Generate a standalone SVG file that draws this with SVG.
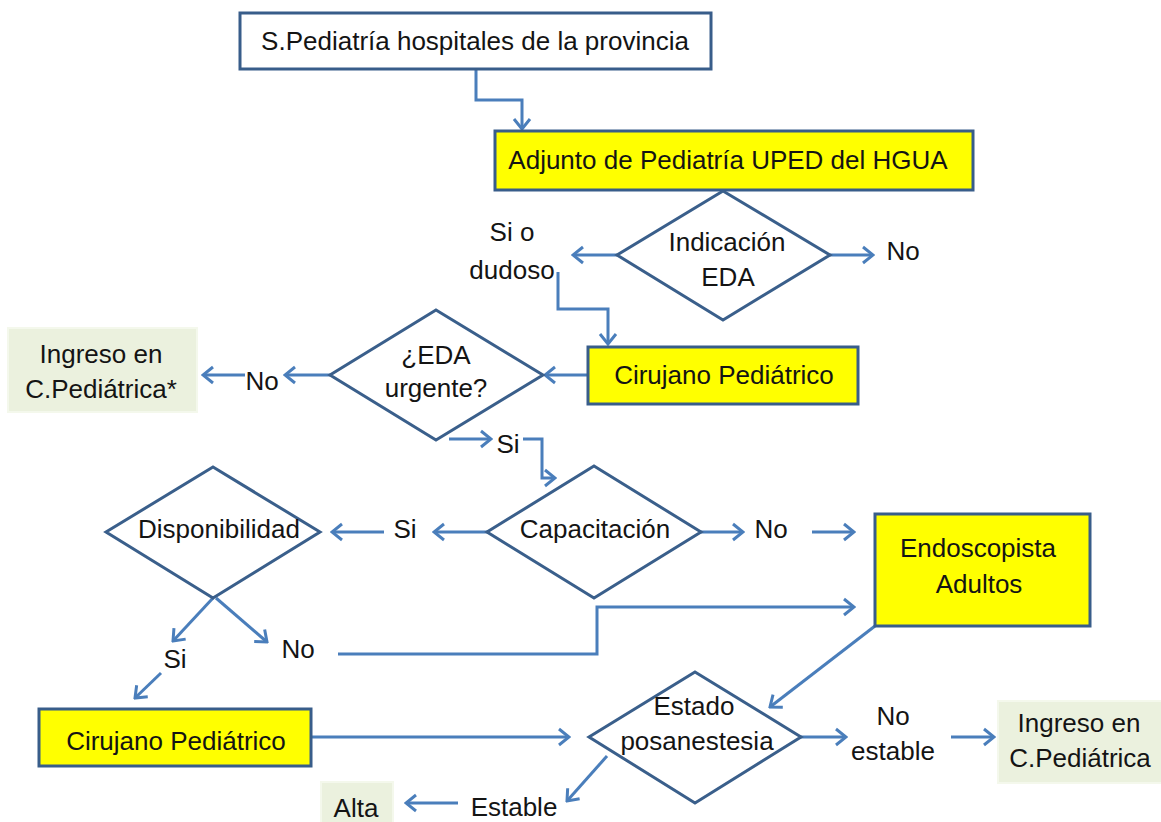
<svg xmlns="http://www.w3.org/2000/svg" width="1161" height="822" viewBox="0 0 1161 822">
<style>
  .box{stroke:#385D8A;stroke-width:3}
  .yel{fill:#FFFF00}
  .wht{fill:#FFFFFF}
  .grn{fill:#EBF1DE;stroke:#F4F8EC;stroke-width:2}
  .dia{fill:#FFFFFF;stroke:#3A5F8B;stroke-width:3;stroke-linejoin:miter}
  .con{fill:none;stroke:#4A7EBB;stroke-width:3;marker-end:url(#arr)}
  text{font-family:"Liberation Sans",Arial,sans-serif;font-size:26px;fill:#141414;text-anchor:middle}
</style>
<defs>
  <marker id="arr" viewBox="-14 -11 16 22" refX="0" refY="0" markerWidth="16" markerHeight="22" markerUnits="userSpaceOnUse" orient="auto">
    <path d="M-10,-8 L0,0 L-10,8" fill="none" stroke="#4A7EBB" stroke-width="3"/>
  </marker>
</defs>
<rect width="1161" height="822" fill="#FFFFFF"/>

<g id="connectors">
  <path class="con" d="M476,69 V100 H522 V129"/>
  <path class="con" d="M617,255 H573"/>
  <path class="con" d="M830,255 H873"/>
  <path class="con" d="M558,272 V309 H608 V344"/>
  <path class="con" d="M588,375 H545"/>
  <path class="con" d="M330,375 H285"/>
  <path class="con" d="M245,375 H203"/>
  <path class="con" d="M449,439 H491"/>
  <path class="con" d="M523,439 H542 V478 H555"/>
  <path class="con" d="M487,532 H434"/>
  <path class="con" d="M384,532 H332"/>
  <path class="con" d="M701,532 H743"/>
  <path class="con" d="M812,532 H854"/>
  <path class="con" d="M213,598 L173,641"/>
  <path class="con" d="M216,598 L267,642"/>
  <path class="con" d="M161,673 L135,698"/>
  <path class="con" d="M338,654 H597 V607 H854"/>
  <path class="con" d="M875,626 L770,707"/>
  <path class="con" d="M311,737 H569"/>
  <path class="con" d="M801,737 H846"/>
  <path class="con" d="M951,737 H994"/>
  <path class="con" d="M607,756 L567,801"/>
  <path class="con" d="M458,803 H406"/>
</g>

<g id="n-spediatria">
  <rect class="box wht" x="240" y="13" width="471" height="56"/>
  <text x="475" y="50">S.Pediatría hospitales de la provincia</text>
</g>
<g id="n-adjunto">
  <rect class="box yel" x="495" y="131" width="478" height="59"/>
  <text x="728" y="169">Adjunto de Pediatría UPED del HGUA</text>
</g>
<g id="d-indicacion">
  <polygon class="dia" points="723,191 830,255 723,320 617,255"/>
  <text x="727" y="251">Indicación</text>
  <text x="728" y="286">EDA</text>
</g>
<g id="n-cirujano1">
  <rect class="box yel" x="588" y="347" width="270" height="57"/>
  <text x="724" y="384">Cirujano Pediátrico</text>
</g>
<g id="d-urgente">
  <polygon class="dia" points="436,310 543,375 436,440 330,375"/>
  <text x="436" y="364">¿EDA</text>
  <text x="436" y="397">urgente?</text>
</g>
<g id="n-ingreso1">
  <rect class="grn" x="8" y="328" width="189" height="84"/>
  <text x="101" y="363">Ingreso en</text>
  <text x="101" y="398">C.Pediátrica*</text>
</g>
<g id="d-capacitacion">
  <polygon class="dia" points="594,466 701,532 594,598 487,532"/>
  <text x="595" y="538">Capacitación</text>
</g>
<g id="d-disponibilidad">
  <polygon class="dia" points="213,467 320,532 213,598 106,532"/>
  <text x="219" y="538">Disponibilidad</text>
</g>
<g id="n-endoscopista">
  <rect class="box yel" x="875" y="514" width="215" height="112"/>
  <text x="978" y="557">Endoscopista</text>
  <text x="979" y="593">Adultos</text>
</g>
<g id="n-cirujano2">
  <rect class="box yel" x="39" y="709" width="272" height="57"/>
  <text x="176" y="750">Cirujano Pediátrico</text>
</g>
<g id="d-estado">
  <polygon class="dia" points="695,672 801,737 695,803 589,737"/>
  <text x="694" y="715">Estado</text>
  <text x="697" y="750">posanestesia</text>
</g>
<g id="n-ingreso2">
  <rect class="grn" x="998" y="701" width="165" height="82"/>
  <text x="1079" y="732">Ingreso en</text>
  <text x="1080" y="767">C.Pediátrica</text>
</g>
<g id="n-alta">
  <rect class="grn" x="321" y="782" width="72" height="42"/>
  <text x="356" y="817">Alta</text>
</g>

<g id="labels">
  <text x="512" y="241">Si o</text>
  <text x="512" y="279">dudoso</text>
  <text x="903" y="260">No</text>
  <text x="262" y="390">No</text>
  <text x="508" y="453">Si</text>
  <text x="405" y="538">Si</text>
  <text x="771" y="538">No</text>
  <text x="175" y="668">Si</text>
  <text x="298" y="658">No</text>
  <text x="893" y="725">No</text>
  <text x="893" y="760">estable</text>
  <text x="514" y="816">Estable</text>
</g>
</svg>
